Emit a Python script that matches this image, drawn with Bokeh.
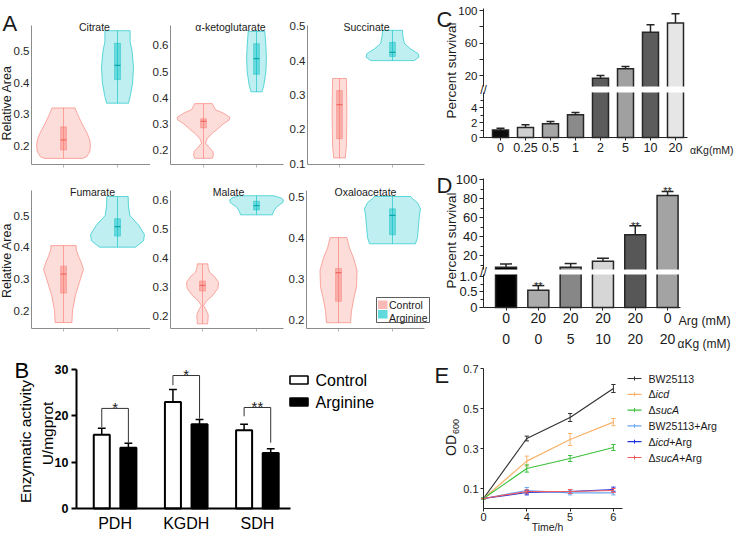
import math
from bokeh.plotting import figure
from bokeh.layouts import row, column
from bokeh.models import Range1d, FixedTicker, Label, LinearAxis
from bokeh.embed import file_html
from bokeh.resources import INLINE

FONT = "Liberation Sans"

# ===================== DATA =====================
# ---- Panel A: violin outlines (value levels, relative density 0..1) and box stats
metabolites = ["Citrate", "α-ketoglutarate", "Succinate", "Fumarate", "Malate", "Oxaloacetate"]
groups = ["Control", "Arginine"]

citrate_ctrl_lv = [0.160, 0.165, 0.18, 0.20, 0.22, 0.24, 0.27, 0.30, 0.32]
citrate_ctrl_dn = [0.68, 0.82, 0.93, 0.96, 0.93, 0.84, 0.66, 0.50, 0.41]
citrate_arg_lv = [0.335, 0.36, 0.40, 0.45, 0.50, 0.53, 0.565]
citrate_arg_dn = [0.39, 0.46, 0.54, 0.57, 0.52, 0.45, 0.45]

akg_ctrl_lv = [0.169, 0.18, 0.195, 0.21, 0.227, 0.245, 0.265, 0.28, 0.30, 0.315, 0.325, 0.34, 0.355, 0.378]
akg_ctrl_dn = [0.32, 0.36, 0.34, 0.21, 0.07, 0.14, 0.32, 0.50, 0.71, 0.93, 0.96, 0.75, 0.43, 0.32]
akg_arg_lv = [0.423, 0.45, 0.50, 0.55, 0.60, 0.63, 0.654]
akg_arg_dn = [0.20, 0.27, 0.34, 0.36, 0.34, 0.32, 0.30]

succ_ctrl_lv = [0.117, 0.15, 0.20, 0.25, 0.30, 0.348]
succ_ctrl_dn = [0.21, 0.25, 0.26, 0.27, 0.26, 0.25]
succ_arg_lv = [0.40, 0.41, 0.42, 0.435, 0.45, 0.47, 0.488]
succ_arg_dn = [0.79, 0.96, 0.93, 0.64, 0.43, 0.38, 0.36]

fum_ctrl_lv = [0.162, 0.20, 0.25, 0.29, 0.33, 0.35, 0.37, 0.39, 0.405]
fum_ctrl_dn = [0.30, 0.32, 0.43, 0.57, 0.71, 0.64, 0.54, 0.46, 0.45]
fum_arg_lv = [0.40, 0.42, 0.44, 0.47, 0.50, 0.53, 0.56]
fum_arg_dn = [0.64, 0.93, 0.96, 0.75, 0.44, 0.39, 0.38]

mal_ctrl_lv = [0.172, 0.19, 0.205, 0.22, 0.235, 0.25, 0.27, 0.295, 0.315, 0.335, 0.35, 0.365, 0.379]
mal_ctrl_dn = [0.18, 0.20, 0.20, 0.13, 0.04, 0.14, 0.36, 0.55, 0.57, 0.43, 0.25, 0.20, 0.19]
mal_arg_lv = [0.548, 0.56, 0.575, 0.59, 0.60, 0.607, 0.614]
mal_arg_dn = [0.57, 0.61, 0.71, 0.93, 0.96, 0.86, 0.61]

oxa_ctrl_lv = [0.193, 0.22, 0.25, 0.28, 0.32, 0.35, 0.375, 0.40]
oxa_ctrl_dn = [0.43, 0.46, 0.54, 0.64, 0.66, 0.54, 0.39, 0.30]
oxa_arg_lv = [0.385, 0.40, 0.43, 0.455, 0.47, 0.485, 0.495, 0.50]
oxa_arg_dn = [0.82, 0.89, 0.93, 0.96, 1.00, 0.89, 0.71, 0.64]

box_ctrl_q1 = [0.187, 0.285, 0.173, 0.255, 0.285, 0.245]
box_ctrl_med = [0.219, 0.310, 0.272, 0.315, 0.305, 0.315]
box_ctrl_q3 = [0.260, 0.320, 0.313, 0.340, 0.320, 0.325]
box_arg_q1 = [0.410, 0.490, 0.412, 0.435, 0.565, 0.407]
box_arg_med = [0.455, 0.550, 0.424, 0.465, 0.580, 0.454]
box_arg_q3 = [0.525, 0.607, 0.453, 0.490, 0.595, 0.470]

# ---- Panel B: enzymatic activity
enzymes = ["PDH", "KGDH", "SDH"]
enz_ctrl = [15.9, 23.0, 16.9]
enz_ctrl_err = [1.4, 2.7, 1.3]
enz_arg = [13.1, 18.2, 12.0]
enz_arg_err = [1.0, 1.0, 0.9]
sig_marks = ["*", "*", "**"]
bracket_top = [21.6, 28.7, 21.8]
bracket_ctrl_end = [17.6, 26.6, 19.9]
bracket_arg_end = [14.2, 19.4, 14.2]

# ---- Panel C: survival vs aKG
akg_conc = ["0", "0.25", "0.5", "1", "2", "5", "10", "20"]
akg_surv = [1.0, 1.35, 1.85, 3.05, 16.7, 28.2, 73.3, 84.8]
akg_surv_err = [0.25, 0.35, 0.30, 0.30, 3.3, 2.9, 9.1, 11.1]

# ---- Panel D: survival with Arg / aKG
arg_mM = ["0", "20", "20", "20", "20", "0"]
akg_mM = ["0", "0", "5", "10", "20", "20"]
combo_surv = [7.7, 0.55, 7.7, 14.0, 42.1, 83.5]
combo_err = [3.5, 0.15, 3.9, 3.2, 9.5, 4.3]
combo_sig = ["", "**", "", "", "**", "**"]

# ---- Panel E: growth curves
time_h = ["0", "4", "5", "6"]
strains = ["BW25113", "Δicd", "ΔsucA", "BW25113+Arg", "Δicd+Arg", "ΔsucA+Arg"]
od_bw = [0.05, 0.350, 0.455, 0.600]
od_bw_err = [0.003, 0.012, 0.020, 0.020]
od_icd = [0.05, 0.237, 0.345, 0.432]
od_icd_err = [0.003, 0.025, 0.030, 0.018]
od_suca = [0.05, 0.200, 0.250, 0.305]
od_suca_err = [0.003, 0.018, 0.015, 0.015]
od_bw_arg = [0.05, 0.090, 0.078, 0.078]
od_bw_arg_err = [0.0, 0.015, 0.010, 0.010]
od_icd_arg = [0.05, 0.080, 0.085, 0.095]
od_icd_arg_err = [0.0, 0.012, 0.010, 0.012]
od_suca_arg = [0.05, 0.085, 0.085, 0.090]
od_suca_arg_err = [0.0, 0.008, 0.010, 0.010]

# ===================== STYLE / LAYOUT =====================
CTRL_COL = "#F8766D"
ARG_COL = "#00BFC4"
CTRL_MED = "#F06A64"
ARG_MED = "#0AA8AD"
LEG_CTRL = "#F9B9B7"
LEG_ARG = "#5FD9DC"
EDGE = "#262626"
VW = 0.52      # half width (x units) of density 1.0
BOXW = 0.055   # half width of box
akg_colors = ["#0d0d0d", "#d0d0d0", "#a6a6a6", "#8a8a8a", "#5c5c5c", "#a0a0a0", "#5c5c5c", "#e6e6e6"]
combo_colors = ["#000000", "#ababab", "#878787", "#d6d6d6", "#575757", "#a3a3a3"]
strain_colors = ["#333333", "#F9B26B", "#3CC13C", "#6AA8F5", "#2233DD", "#F25C5C"]


class Frame:
    """Maps page pixels <-> data for a plot area drawn inside a canvas."""
    def __init__(self, canvas, frame, xr, yr):
        self.canvas = canvas
        self.l, self.t, self.r, self.b = frame
        self.xr, self.yr = xr, yr

    def x(self, px):
        return self.xr[0] + (px - self.l) * (self.xr[1] - self.xr[0]) / (self.r - self.l)

    def y(self, py):
        return self.yr[0] + (self.b - py) * (self.yr[1] - self.yr[0]) / (self.b - self.t)

    def px(self, x):
        return self.l + (x - self.xr[0]) * (self.r - self.l) / (self.xr[1] - self.xr[0])

    def py(self, y):
        return self.b - (y - self.yr[0]) * (self.b - self.t) / (self.yr[1] - self.yr[0])

    def full_x(self):
        return (self.x(self.canvas[0]), self.x(self.canvas[2]))

    def full_y(self):
        return (self.y(self.canvas[3]), self.y(self.canvas[1]))


def make_fig(F):
    cx0, cy0, cx1, cy1 = F.canvas
    p = figure(width=cx1 - cx0, height=cy1 - cy0,
               x_range=Range1d(*F.full_x()), y_range=Range1d(*F.full_y()),
               min_border=0, min_border_left=0, min_border_right=0,
               min_border_top=0, min_border_bottom=0,
               output_backend="svg", toolbar_location=None, title=None)
    p.outline_line_color = None
    p.xgrid.visible = False
    p.ygrid.visible = False
    p.background_fill_color = "white"
    p.border_fill_color = "white"
    return p


def put(p, F, px, py, text, size, align="center", baseline="middle", angle=0.0,
        style="normal", color="#1a1a1a"):
    p.add_layout(Label(x=F.x(px), y=F.y(py), text=text, text_font=FONT,
                       text_font_size=f"{size}px", text_align=align,
                       text_baseline=baseline, angle=angle,
                       text_font_style=style, text_color=color))


def box_px(p, F, l, t, r, b, **kw):
    p.quad(left=[F.x(l)], right=[F.x(r)], top=[F.y(t)], bottom=[F.y(b)], **kw)


def style_axis(ax, ticks, size, color="#1a1a1a", line_color="#1a1a1a", line_width=1.0,
               tick_out=4, standoff=2, overrides=None, minor=None, bold=False):
    ax.ticker = FixedTicker(ticks=ticks, minor_ticks=minor or [])
    ax.major_label_text_font = FONT
    ax.major_label_text_font_size = f"{size}px"
    ax.major_label_text_color = color
    ax.major_label_standoff = standoff
    ax.axis_line_color = line_color
    ax.axis_line_width = line_width
    ax.major_tick_line_color = line_color if tick_out else None
    ax.major_tick_line_width = line_width
    ax.major_tick_out = tick_out
    ax.major_tick_in = 0
    ax.minor_tick_line_color = line_color if minor else None
    ax.minor_tick_line_width = line_width
    ax.minor_tick_out = 3
    ax.minor_tick_in = 0
    if overrides:
        ax.major_label_overrides = overrides
    if bold:
        ax.major_label_text_font_style = "bold"


def pin_y(ax, F):
    ax.fixed_location = F.xr[0]
    ax.bounds = F.yr


def pin_x(ax, F, at=None):
    ax.fixed_location = F.yr[0] if at is None else at
    ax.bounds = F.xr


# ===================== PANEL A =====================
A_ctrl = [(citrate_ctrl_lv, citrate_ctrl_dn), (akg_ctrl_lv, akg_ctrl_dn), (succ_ctrl_lv, succ_ctrl_dn),
          (fum_ctrl_lv, fum_ctrl_dn), (mal_ctrl_lv, mal_ctrl_dn), (oxa_ctrl_lv, oxa_ctrl_dn)]
A_arg = [(citrate_arg_lv, citrate_arg_dn), (akg_arg_lv, akg_arg_dn), (succ_arg_lv, succ_arg_dn),
         (fum_arg_lv, fum_arg_dn), (mal_arg_lv, mal_arg_dn), (oxa_arg_lv, oxa_arg_dn)]
A_yranges = [(0.1407, 0.5814), (0.1453, 0.6764), (0.098, 0.502),
             (0.1432, 0.579), (0.156, 0.632), (0.179, 0.5146)]
A_yticks = [[0.2, 0.3, 0.4, 0.5], [0.2, 0.3, 0.4, 0.5, 0.6], [0.1, 0.2, 0.3, 0.4, 0.5],
            [0.2, 0.3, 0.4, 0.5], [0.2, 0.3, 0.4, 0.5, 0.6], [0.2, 0.3, 0.4, 0.5]]
A_canvas = [(0, 0, 150, 172), (150, 0, 288, 172), (288, 0, 430, 172),
            (0, 172, 150, 340), (150, 172, 287, 340), (287, 172, 430, 340)]
A_frames = [(31, 25, 150, 164), (170, 25, 283, 164), (307, 25, 424, 164),
            (31, 190, 150, 328), (170, 190, 283, 328), (306, 190, 424, 328)]
A_xranges = [(0.407, 2.611), (0.377, 2.509), (0.396, 2.604),
             (0.407, 2.611), (0.407, 2.5), (0.407, 2.593)]
A_title_cx = [94, 230, 366, 92, 228, 365]

A_figs = []
for i in range(6):
    F = Frame(A_canvas[i], A_frames[i], A_xranges[i], A_yranges[i])
    p = make_fig(F)
    specs = [(1, A_ctrl[i], box_ctrl_q1[i], box_ctrl_med[i], box_ctrl_q3[i], CTRL_COL, CTRL_MED),
             (2, A_arg[i], box_arg_q1[i], box_arg_med[i], box_arg_q3[i], ARG_COL, ARG_MED)]
    for center, (lv, dn), q1, med, q3, col, mcol in specs:
        hw = [d * VW for d in dn]
        xs = [center - h for h in hw] + [center + h for h in hw[::-1]]
        ys = list(lv) + list(lv[::-1])
        p.patch(xs, ys, fill_color=col, fill_alpha=0.25, line_color=col, line_alpha=0.6, line_width=1)
        p.segment(x0=[center], y0=[lv[0]], x1=[center], y1=[lv[-1]], line_color=col,
                  line_alpha=0.6, line_width=1)
        p.quad(left=[center - BOXW], right=[center + BOXW], bottom=[q1], top=[q3],
               fill_color=col, fill_alpha=0.45, line_color=col, line_alpha=0.5, line_width=0.8)
        p.segment(x0=[center - BOXW], y0=[med], x1=[center + BOXW], y1=[med],
                  line_color=mcol, line_width=1.2)
    style_axis(p.yaxis[0], A_yticks[i], 11.5, color="#262626", line_color="#8c8c8c",
               tick_out=0, standoff=2)
    pin_y(p.yaxis[0], F)
    style_axis(p.xaxis[0], [], 11, line_color="#8c8c8c", tick_out=0)
    pin_x(p.xaxis[0], F)
    # small category ticks under the x axis line
    p.segment(x0=[1, 2], y0=F.y(F.b), x1=[1, 2], y1=F.y(F.b + 3), line_color="#b5b5b5", line_width=1)
    put(p, F, A_title_cx[i], F.t + 1, metabolites[i], 10.5, baseline="alphabetic")
    if i in (0, 3):
        put(p, F, 6, (F.t + F.b) / 2 + (8 if i == 0 else 1), "Relative Area", 12.5,
            angle=math.pi / 2)
    if i == 0:
        put(p, F, 2, 23, "A", 22, align="left", baseline="alphabetic")
    if i == 5:
        box_px(p, F, 376, 297, 429, 322, fill_color="white", line_color="#333333", line_width=0.8)
        box_px(p, F, 377.5, 300, 387, 308.5, fill_color=LEG_CTRL, line_color=None)
        box_px(p, F, 377.5, 309.5, 387, 318, fill_color=LEG_ARG, line_color=None)
        put(p, F, 388.5, 304, groups[0], 10.5, align="left")
        put(p, F, 388.5, 317, groups[1], 10.5, align="left")
    A_figs.append(p)

# ===================== PANEL B =====================
FB = Frame((0, 340, 430, 534), (76, 369, 290, 508), (0.458, 3.465), (0, 30))
pB = make_fig(FB)
xpos = [1, 2, 3]
OFF, BW = 0.187, 0.225
cx = [x - OFF for x in xpos]
ax_ = [x + OFF for x in xpos]
CAPB = 0.11
pB.vbar(x=cx, top=enz_ctrl, width=BW, fill_color="white", line_color="black", line_width=2)
pB.vbar(x=ax_, top=enz_arg, width=BW, fill_color="black", line_color="black", line_width=2)
for xs_, v, e in [(cx, enz_ctrl, enz_ctrl_err), (ax_, enz_arg, enz_arg_err)]:
    top = [a + b for a, b in zip(v, e)]
    pB.segment(x0=xs_, y0=v, x1=xs_, y1=top, line_color="black", line_width=1.5)
    pB.segment(x0=[x - CAPB / 2 for x in xs_], y0=top, x1=[x + CAPB / 2 for x in xs_], y1=top,
               line_color="black", line_width=1.5)
pB.multi_line(xs=[[c, c, a, a] for c, a in zip(cx, ax_)],
              ys=[[l, t, t, r] for l, t, r in zip(bracket_ctrl_end, bracket_top, bracket_arg_end)],
              line_color="#333333", line_width=1)
for i in range(3):
    put(pB, FB, FB.px(xpos[i]), FB.py(bracket_top[i]) - 1, sig_marks[i], 15,
        baseline="alphabetic")
style_axis(pB.yaxis[0], [0, 10, 20, 30], 12.5, line_color="black", line_width=2,
           tick_out=5, standoff=3, bold=True, color="black")
pin_y(pB.yaxis[0], FB)
style_axis(pB.xaxis[0], xpos, 16, line_color="black", line_width=2, tick_out=0, standoff=6,
           overrides={x: n for x, n in zip(xpos, enzymes)}, color="black")
pin_x(pB.xaxis[0], FB)
put(pB, FB, 25, 441, "Enzymatic activity", 15.5, angle=math.pi / 2, color="black")
put(pB, FB, 47, 433, "U/mgprot", 15.5, angle=math.pi / 2, color="black")
put(pB, FB, 14, 370, "B", 22, align="left", baseline="alphabetic", color="black")
box_px(pB, FB, 289.5, 375.5, 307.5, 383.5, fill_color="white", line_color="black", line_width=1.6)
box_px(pB, FB, 289.5, 397.5, 307.5, 405.5, fill_color="black", line_color="black", line_width=1.6)
put(pB, FB, 315, 380, groups[0], 16, align="left", color="black")
put(pB, FB, 315, 402, groups[1], 16, align="left", color="black")


# ===================== broken-axis bar helper =====================
def broken_bars(p, Fu, Fl, xs_, vals, errs, colors, width, cap):
    ub, lt = Fu.yr[0], Fl.yr[1]
    hw = width / 2
    # lower segment
    p.vbar(x=xs_, bottom=0, top=[min(v, lt) for v in vals], width=width, fill_color=colors,
           line_color=None, y_range_name="low")
    lx, ly = [], []
    for x, v in zip(xs_, vals):
        if v <= lt:
            lx.append([x - hw, x - hw, x + hw, x + hw, x - hw])
            ly.append([0, v, v, 0, 0])
        else:
            lx.append([x - hw, x - hw, x + hw, x + hw])
            ly.append([lt, 0, 0, lt])
    p.multi_line(lx, ly, line_color=EDGE, line_width=1.5, line_join="miter", y_range_name="low")
    # upper segment
    up = [(x, v, c) for x, v, c in zip(xs_, vals, colors) if v > ub]
    p.vbar(x=[u[0] for u in up], bottom=ub, top=[u[1] for u in up], width=width,
           fill_color=[u[2] for u in up], line_color=None)
    p.multi_line([[x - hw, x - hw, x + hw, x + hw] for x, v, c in up],
                 [[ub, v, v, ub] for x, v, c in up], line_color=EDGE, line_width=1.5,
                 line_join="miter")
    # error bars (upward)
    for sel, rng in ((lambda v, t: v > ub, "default"), (lambda v, t: t <= lt, "low")):
        pts = [(x, v, v + e) for x, v, e in zip(xs_, vals, errs) if sel(v, v + e)]
        if not pts:
            continue
        p.segment(x0=[q[0] for q in pts], y0=[q[1] for q in pts], x1=[q[0] for q in pts],
                  y1=[q[2] for q in pts], line_color=EDGE, line_width=1.5, y_range_name=rng)
        p.segment(x0=[q[0] - cap / 2 for q in pts], y0=[q[2] for q in pts],
                  x1=[q[0] + cap / 2 for q in pts], y1=[q[2] for q in pts],
                  line_color=EDGE, line_width=1.5, y_range_name=rng)


def broken_fig(Fu, Fl):
    p = make_fig(Fu)
    p.extra_y_ranges = {"low": Range1d(*Fl.full_y())}
    return p


# ===================== PANEL C =====================
xc = list(range(len(akg_conc)))
C_canvas = (430, 0, 734, 160)
FCu = Frame(C_canvas, (483, 8, 687, 86), (-0.68, 7.48), (6.5, 102.5))
FCl = Frame(C_canvas, (483, 92, 687, 137), (-0.68, 7.48), (0, 6))
pC = broken_fig(FCu, FCl)
broken_bars(pC, FCu, FCl, xc, akg_surv, akg_surv_err, akg_colors, 0.64, 0.32)
style_axis(pC.yaxis[0], [20, 40, 60, 80, 100], 11.5, line_color=EDGE, tick_out=4,
           standoff=2, overrides={40: "", 80: ""})
pin_y(pC.yaxis[0], FCu)
axCl = LinearAxis(y_range_name="low")
style_axis(axCl, [0, 2, 4], 11.5, line_color=EDGE, tick_out=4, standoff=2, minor=[1, 3, 5])
pin_y(axCl, FCl)
pC.add_layout(axCl, "left")
style_axis(pC.xaxis[0], xc, 12.5, line_color=EDGE, tick_out=3, standoff=2,
           overrides={x: c for x, c in zip(xc, akg_conc)})
pin_x(pC.xaxis[0], FCl, at=FCu.y(FCl.b))
put(pC, FCu, 689.5, 149, "αKg(mM)", 10.5, align="left")
put(pC, FCu, 436, 19, "C", 22, align="left", baseline="alphabetic")
put(pC, FCu, 451, 70, "Percent survival", 13.5, angle=math.pi / 2)
put(pC, FCu, 483, 89, "//", 12)

# ===================== PANEL D =====================
xd = list(range(len(arg_mM)))
D_canvas = (430, 160, 734, 352)
FDu = Frame(D_canvas, (483, 178, 680, 269), (-0.697, 5.40), (5.3, 101.4))
FDl = Frame(D_canvas, (483, 274, 680, 307), (-0.697, 5.40), (0, 1.054))
pD = broken_fig(FDu, FDl)
broken_bars(pD, FDu, FDl, xd, combo_surv, combo_err, combo_colors, 0.65, 0.37)
style_axis(pD.yaxis[0], [20, 40, 60, 80, 100], 13, line_color=EDGE, tick_out=4,
           standoff=2, minor=[10, 30, 50, 70, 90])
pin_y(pD.yaxis[0], FDu)
axDl = LinearAxis(y_range_name="low")
style_axis(axDl, [0, 0.5, 1.0], 13, line_color=EDGE, tick_out=4, standoff=2,
           minor=[0.25, 0.75], overrides={0: "0", 0.5: "0.5", 1.0: "1.0"})
pin_y(axDl, FDl)
pD.add_layout(axDl, "left")
style_axis(pD.xaxis[0], xd, 14, line_color=EDGE, tick_out=3, standoff=2,
           overrides={x: s for x, s in zip(xd, arg_mM)})
pin_x(pD.xaxis[0], FDl, at=FDu.y(FDl.b))
axD2 = LinearAxis()
style_axis(axD2, xd, 14, line_color=None, tick_out=0, standoff=0,
           overrides={x: s for x, s in zip(xd, akg_mM)})
pin_x(axD2, FDl, at=FDu.y(333))
pD.add_layout(axD2, "below")
put(pD, FDu, 678, 320, "Arg (mM)", 12.5, align="left")
put(pD, FDu, 677, 343, "αKg (mM)", 12, align="left")
for i in xd:
    if combo_sig[i]:
        et = combo_surv[i] + combo_err[i]
        if combo_surv[i] > FDu.yr[0]:
            put(pD, FDu, FDu.px(i), FDu.py(et), combo_sig[i], 11, baseline="alphabetic")
        else:
            put(pD, FDu, FDl.px(i), FDl.py(et), combo_sig[i], 11, baseline="alphabetic")
put(pD, FDu, 436, 185, "D", 22, align="left", baseline="alphabetic")
put(pD, FDu, 451, 240, "Percent survival", 13.5, angle=math.pi / 2)
put(pD, FDu, 483, 271.5, "//", 12)

# ===================== PANEL E =====================
xe = list(range(len(time_h)))
FE = Frame((430, 352, 734, 534), (483, 368, 622, 508), (0, 3.21), (0, 0.7))
pE = make_fig(FE)
series = [(od_bw, od_bw_err), (od_icd, od_icd_err), (od_suca, od_suca_err),
          (od_bw_arg, od_bw_arg_err), (od_icd_arg, od_icd_arg_err), (od_suca_arg, od_suca_arg_err)]
CAPE = 0.1
for (vals, errs), col in zip(series, strain_colors):
    pE.line(xe, vals, line_color=col, line_width=1.2)
    lo = [v - e for v, e in zip(vals, errs)]
    hi = [v + e for v, e in zip(vals, errs)]
    pE.segment(x0=xe, y0=lo, x1=xe, y1=hi, line_color=col, line_width=1)
    pE.segment(x0=[x - CAPE / 2 for x in xe], y0=hi, x1=[x + CAPE / 2 for x in xe], y1=hi,
               line_color=col, line_width=1)
    pE.segment(x0=[x - CAPE / 2 for x in xe], y0=lo, x1=[x + CAPE / 2 for x in xe], y1=lo,
               line_color=col, line_width=1)
style_axis(pE.yaxis[0], [0.1, 0.3, 0.5, 0.7], 11, line_color=EDGE, tick_out=3, standoff=2)
pin_y(pE.yaxis[0], FE)
style_axis(pE.xaxis[0], xe, 11, line_color=EDGE, tick_out=3, standoff=1,
           overrides={x: t for x, t in zip(xe, time_h)})
pin_x(pE.xaxis[0], FE)
# legend (swatches + texts with italic gene names)
CHAR_W = {"B": .667, "W": .944, "2": .556, "5": .556, "1": .556, "3": .556, "Δ": .668,
          "i": .222, "c": .5, "d": .556, "s": .5, "u": .556, "A": .667, "+": .584,
          "r": .333, "g": .556}
LEG_FS = 10.6
for k, (name, col) in enumerate(zip(strains, strain_colors)):
    yk = 378 + 15.8 * k
    pE.segment(x0=[FE.x(627)], y0=[FE.y(yk)], x1=[FE.x(641)], y1=[FE.y(yk)],
               line_color=col, line_width=1.2)
    pE.segment(x0=[FE.x(634)], y0=[FE.y(yk - 2)], x1=[FE.x(634)], y1=[FE.y(yk + 2)],
               line_color=col, line_width=1)
    if name.startswith("Δ"):
        base = name[1:].split("+")[0]
        parts = [("Δ", "normal"), (base, "italic")]
        if "+" in name:
            parts.append(("+" + name.split("+")[1], "normal"))
    else:
        parts = [(name, "normal")]
    x0 = 648
    for txt, sty in parts:
        put(pE, FE, x0, yk, txt, LEG_FS, align="left", style=sty)
        x0 += sum(CHAR_W.get(ch, 0.55) for ch in txt) * LEG_FS
put(pE, FE, 450.5, 445, "OD", 14, angle=math.pi / 2)
put(pE, FE, 455, 426, "600", 9, angle=math.pi / 2)
put(pE, FE, 547, 526.5, "Time/h", 10.5, baseline="middle")
put(pE, FE, 434, 375, "E", 22, align="left", baseline="alphabetic")

# ===================== LAYOUT =====================
left = column(row(A_figs[0], A_figs[1], A_figs[2]), row(A_figs[3], A_figs[4], A_figs[5]), pB)
right = column(pC, pD, pE)
page = row(left, right)

open("out.html", "w").write(file_html(page, INLINE))
